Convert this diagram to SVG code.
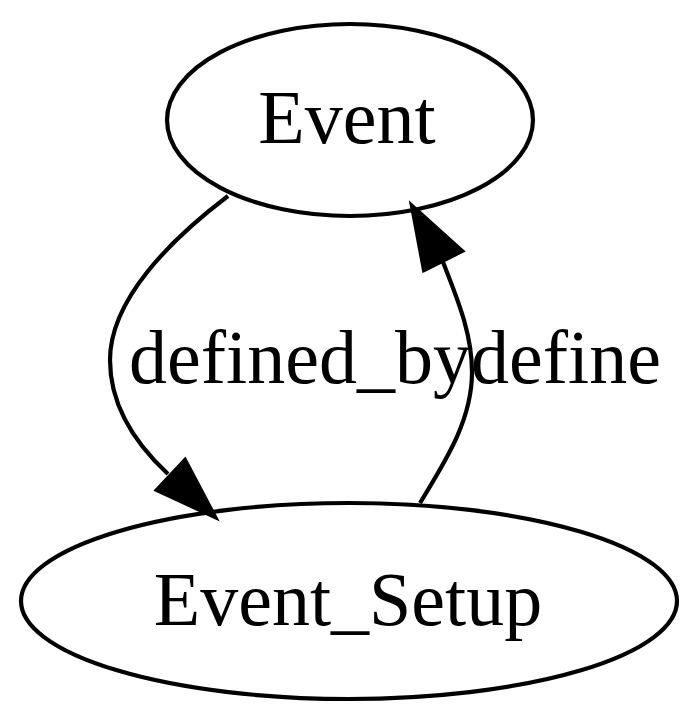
<svg xmlns="http://www.w3.org/2000/svg" width="700" height="722" viewBox="0 0 700 722">
<style>
.node ellipse{fill:none;stroke:#000;stroke-width:4.2}
.edge path{fill:none;stroke:#000;stroke-width:4.2}
.edge polygon{fill:#000;stroke:#000;stroke-width:4.2}
text{font-family:"Liberation Serif","Times New Roman",serif;font-size:76px;fill:#000;text-anchor:middle}
</style>
<rect width="700" height="722" fill="#fff"/>
<g id="node-Event" class="node">
<ellipse cx="350" cy="120" rx="183" ry="96"/>
<text x="347" y="143">Event</text>
</g>
<g id="node-Event_Setup" class="node">
<ellipse cx="349" cy="601" rx="328" ry="98"/>
<text x="348" y="625">Event_Setup</text>
</g>
<g id="connectors" class="edge">
<g id="edge-defined_by">
<path d="M228,196 C170,240 110,300 110,360 C110,410 140,448 168,474"/>
<polygon points="157,490 185,460 215,517"/>
<text x="300" y="383">defined_by</text>
</g>
<g id="edge-define">
<path d="M420,503 C446,460 472,420 472,372 C472,332 456,296 443,262"/>
<polygon points="424,270 462,251 412,206"/>
<text x="566" y="383">define</text>
</g>
</g>
</svg>
